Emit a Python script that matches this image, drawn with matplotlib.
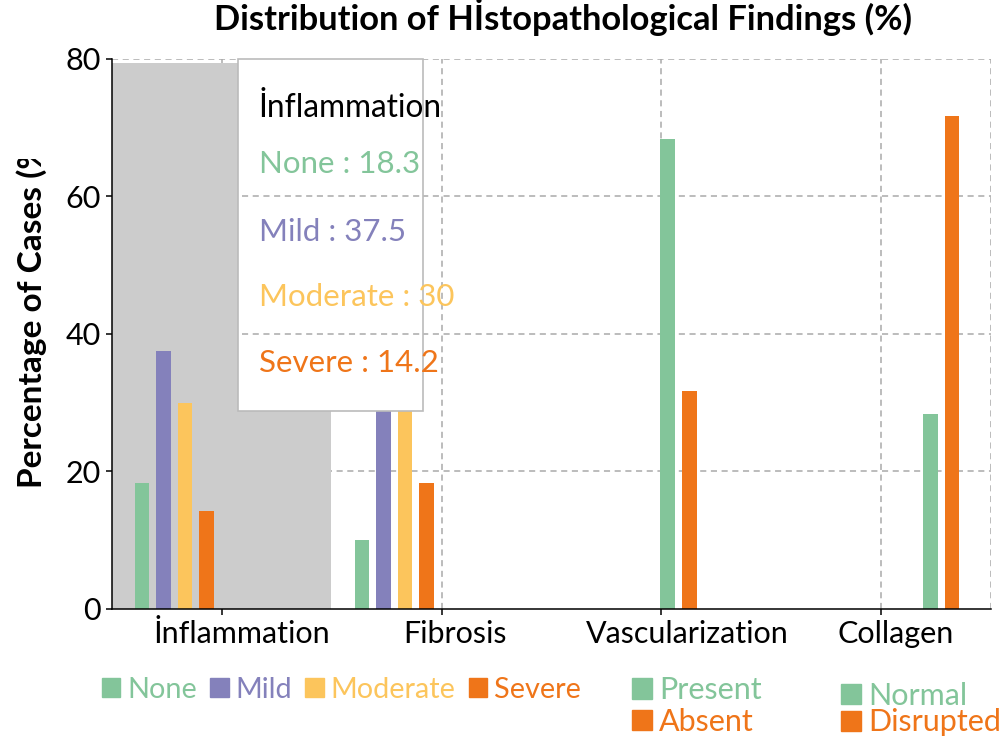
import matplotlib
matplotlib.use('Agg')
import matplotlib.pyplot as plt
from matplotlib.patches import Patch, Rectangle
from matplotlib.transforms import ScaledTranslation

plt.rcParams['font.family'] = ['Lato', 'DejaVu Sans']

# Data
categories = ['İnflammation', 'Fibrosis', 'Vascularization', 'Collagen']
series_names = ['None', 'Mild', 'Moderate', 'Severe', 'Present', 'Absent', 'Normal', 'Disrupted']
none_vals = [18.3, 10.0, None, None]
mild_vals = [37.5, 40.0, None, None]
moderate_vals = [30, 31.7, None, None]
severe_vals = [14.2, 18.3, None, None]
present_vals = [None, None, 68.3, None]
absent_vals = [None, None, 31.7, None]
normal_vals = [None, None, None, 28.3]
disrupted_vals = [None, None, None, 71.7]
series_values = [none_vals, mild_vals, moderate_vals, severe_vals,
                 present_vals, absent_vals, normal_vals, disrupted_vals]

GREEN, PURPLE, YELLOW, ORANGE = '#83C59A', '#8481BB', '#FCC55C', '#EF7519'
series_colors = [GREEN, PURPLE, YELLOW, ORANGE, GREEN, ORANGE, GREEN, ORANGE]

# hovered category shown in the tooltip
hover_index = 0
tooltip_series = ['None', 'Mild', 'Moderate', 'Severe']

W, H = 1005, 742
fig = plt.figure(figsize=(W / 100, H / 100), dpi=100)
ax = fig.add_axes([112 / W, (H - 608.7) / H, 879 / W, 549.7 / H])
ax.set_xlim(-0.5, 3.5)
ax.set_ylim(0, 80)

grid_kw = dict(color='#aaaaaa', lw=1.1, ls=(0, (4, 3)))
for y in [20, 40, 60, 80]:
    ax.axhline(y, zorder=0.5, **grid_kw)
for x in [0, 1, 2, 3, 3.5]:
    ax.axvline(x, zorder=0.5, **grid_kw)

# axis pointer shadow on the hovered category
ax.add_patch(Rectangle((hover_index - 0.5, 0), 0.997, 79.4, facecolor='#cccccc',
                       edgecolor='none', zorder=1))

# grouped bars
bar_w = 0.066
step = 0.098
for i, (name, vals, col) in enumerate(zip(series_names, series_values, series_colors)):
    off = (i - 3.5) * step - 0.02
    xs = [k + off for k, v in enumerate(vals) if v is not None]
    hs = [v for v in vals if v is not None]
    ax.bar(xs, hs, width=bar_w, color=col, zorder=2, label=name)

# tooltip
tx0, tx1, ty0 = 0.073, 0.915, 28.8
ax.add_patch(Rectangle((tx0, ty0), tx1 - tx0, 80 - ty0, facecolor='white',
                       edgecolor='#bbbbbb', lw=1.2, zorder=4, clip_on=False))
for y in [40, 60]:
    ax.plot([tx0 + 0.02, tx1], [y, y], zorder=5, **grid_kw)
ax.text(0.168, 71.6, categories[hover_index], fontsize=22.8, color='black',
        va='baseline', zorder=6)
tip_y = [63.4, 53.5, 44.1, 34.5]
for name, ty in zip(tooltip_series, tip_y):
    i = series_names.index(name)
    v = series_values[i][hover_index]
    ax.text(0.168, ty, f'{name} : {v:g}', fontsize=22.5, color=series_colors[i],
            va='baseline', zorder=6)

# axes styling
for s in ['top', 'right']:
    ax.spines[s].set_visible(False)
for s in ['left', 'bottom']:
    ax.spines[s].set_linewidth(1.1)
    ax.spines[s].set_zorder(3)
ax.set_yticks([0, 20, 40, 60, 80])
ax.set_xticks(range(len(categories)))
ax.set_xticklabels(categories)
ax.tick_params(axis='both', labelsize=22, length=4.5, width=1.1, pad=3.5)
label_shift_px = [20, 13, 26, 14]
for lab, dx in zip(ax.get_xticklabels(), label_shift_px):
    lab.set_transform(lab.get_transform() + ScaledTranslation(dx / 100, 0, fig.dpi_scale_trans))

fig.text(563 / W, 1 - 30 / H, 'Distribution of Hİstopathological Findings (%)',
         ha='center', va='baseline', fontsize=24.8, fontweight='bold')

fig.text(32 / W, (H - 488) / H, 'Percentage of Cases (%)', rotation=90,
         ha='center', va='bottom', fontsize=24, fontweight='bold', zorder=3)
# the label is cut off near its end in the original
fig.add_artist(Rectangle((0, (H - 159) / H), 58 / W, 159 / H, transform=fig.transFigure,
                         facecolor='white', edgecolor='none', zorder=10))

# legends
def make_handles(names):
    return [Patch(color=series_colors[series_names.index(n)], label=n) for n in names]

leg_kw = dict(frameon=False, handlelength=0.64, handleheight=0.64,
              handletextpad=0.24, borderpad=0, borderaxespad=0, labelcolor='linecolor',
              bbox_transform=fig.transFigure, loc='center left')
fig.legend(handles=make_handles(['None', 'Mild', 'Moderate', 'Severe']), ncol=4,
           fontsize=20.8, columnspacing=0.45, bbox_to_anchor=(102 / W, 1 - 690 / H), **leg_kw)
fig.legend(handles=make_handles(['Present', 'Absent']), ncol=1, labelspacing=0.12,
           fontsize=22, bbox_to_anchor=(632 / W, 1 - 706 / H), **leg_kw)
fig.legend(handles=make_handles(['Normal', 'Disrupted']), ncol=1, labelspacing=-0.04,
           fontsize=22, bbox_to_anchor=(841 / W, 1 - 709 / H), **leg_kw)

fig.savefig('out.png', dpi=100)
plt.close(fig)
